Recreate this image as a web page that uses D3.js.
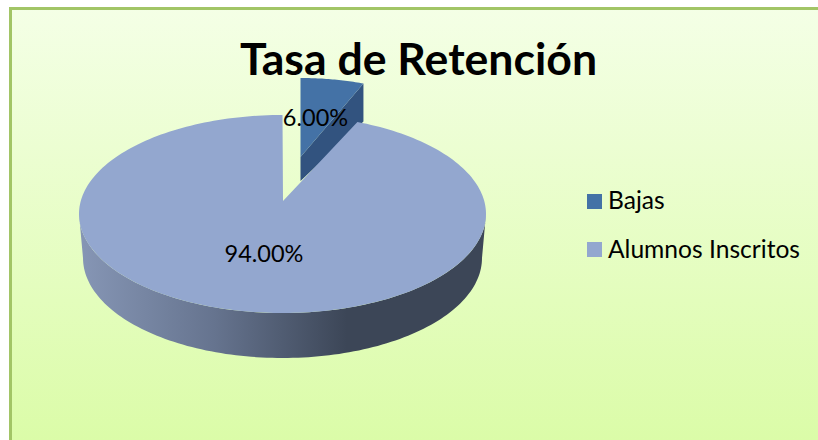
<!DOCTYPE html>
<html><head><meta charset="utf-8">
<script src="https://cdn.jsdelivr.net/npm/d3@7/dist/d3.min.js"></script>
<style>html,body{margin:0;padding:0;background:#fff}svg{display:block}text{font-family:Lato,"Open Sans",sans-serif}</style>
</head><body><svg id="c" width="818" height="440"></svg>
<script>
const titleText = "Tasa de Retención";
const categories = ["Bajas", "Alumnos Inscritos"];
const values = [6.0, 94.0];
const labels = ["6.00%", "94.00%"];
const colors = ["#4472a6", "#93a7cf"];

const svg = d3.select("#c");
const defs = svg.append("defs");
const bg = defs.append("linearGradient").attr("id","bg").attr("gradientUnits","userSpaceOnUse")
  .attr("x1",0).attr("y1",8).attr("x2",0).attr("y2",440);
bg.append("stop").attr("offset",0).attr("stop-color","#f4ffe6");
bg.append("stop").attr("offset",1).attr("stop-color","#dbfca8");
const wall = defs.append("linearGradient").attr("id","wall").attr("gradientUnits","userSpaceOnUse")
  .attr("x1",80).attr("x2",347).attr("y1",0).attr("y2",0);
wall.append("stop").attr("offset",0).attr("stop-color","#8696b5");
wall.append("stop").attr("offset",0.5).attr("stop-color","#66748f");
wall.append("stop").attr("offset",1).attr("stop-color","#3c4657");

svg.append("rect").attr("x",10.5).attr("y",8.5).attr("width",830).attr("height",450)
  .attr("fill","url(#bg)").attr("stroke","#a2c566").attr("stroke-width",3);

const slices = d3.pie().sort(null).value(d=>d)(values);
const small = slices[0], big = slices[1];
const line = d3.line();
const ell = (e,a)=>[e.cx+e.rx*Math.sin(a), e.cy-e.ry*Math.cos(a)];
const arcPts = (e,a0,a1,n=120)=>d3.range(n+1).map(i=>ell(e,a0+(a1-a0)*i/n));

// ellipses of the tilted disc
const topE = {cx:282.5, cy:214, rx:203.5, ry:99};
const bottomE = {cx:282.5, cy:258, rx:199.5, ry:100};
const apex = [283, 201];
const ex = {cx:300.5, cy:157, rx:171, ry:79};
const exDepth = 24;

// exploded slice: inner wall then top face
const c = ell(ex, small.endAngle);
svg.append("path").attr("fill","#32537f")
  .attr("d", line([[ex.cx,ex.cy],c,[c[0],c[1]+38],[ex.cx,ex.cy+exDepth]])+"Z");
svg.append("path").attr("fill",colors[0])
  .attr("d", line([[ex.cx,ex.cy],...arcPts(ex,small.startAngle,small.endAngle,30)])+"Z");

// main disc wall
svg.append("path").attr("fill","url(#wall)")
  .attr("d", line([...arcPts(topE,Math.PI/2,3*Math.PI/2), ...arcPts(bottomE,3*Math.PI/2,Math.PI/2)])+"Z");
// main disc top
svg.append("path").attr("fill",colors[1])
  .attr("d", line([apex,...arcPts(topE,big.startAngle,big.endAngle,240)])+"Z");

// title
svg.append("text").attr("x",418.5).attr("y",75).attr("text-anchor","middle")
  .attr("font-size",44.6).attr("font-weight",700).attr("fill","#000").text(titleText);

// data labels
const labelPos = [[315.5,126],[264,262]];
svg.selectAll("text.lab").data(labels).join("text").attr("class","lab")
  .attr("x",(d,i)=>labelPos[i][0]).attr("y",(d,i)=>labelPos[i][1])
  .attr("text-anchor","middle").attr("font-size",23.5).attr("fill","#000").text(d=>d);

// legend
const legY = d3.scalePoint().domain(categories).range([194,242]);
const legText = d3.scalePoint().domain(categories).range([208.5,257.5]);
svg.selectAll("rect.lg").data(categories).join("rect").attr("class","lg")
  .attr("x",587).attr("y",d=>legY(d)).attr("width",15).attr("height",15).attr("fill",(d,i)=>colors[i]);
svg.selectAll("text.lg").data(categories).join("text").attr("class","lg")
  .attr("x",608).attr("y",d=>legText(d)).attr("font-size",24.6).attr("fill","#000").text(d=>d);
</script></body></html>
